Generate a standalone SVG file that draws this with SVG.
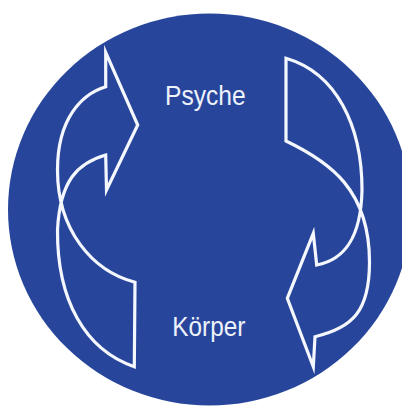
<svg xmlns="http://www.w3.org/2000/svg" width="402" height="407" viewBox="0 0 402 407">
  <style>
    .bg { fill: #ffffff; }
    .disc { fill: #27469b; }
    .arrow { fill: none; stroke: #f4f7fd; stroke-width: 3.2; stroke-linejoin: miter; stroke-miterlimit: 10; }
    .label { fill: #eef2fb; font-family: "Liberation Sans Narrow", "Liberation Sans", Arial, sans-serif; font-size: 27.5px; }
  </style>
  <rect class="bg" x="0" y="0" width="402" height="407"/>
  <ellipse class="disc" cx="209.6" cy="209.5" rx="201.6" ry="196"/>
  <g id="connectors">
    <path id="arrow-left" class="arrow" d="M105.7,86.7 L105.7,52.3 L137.7,125 L106.5,190 L105.7,155 C78,163 60,180 57.5,230 C57,300 85,350 134.3,366.7 L135,282.3 C92,271 57.5,230 57.5,170 C57.5,118 82,94 105.7,86.7 Z"/>
    <path id="arrow-right" class="arrow" d="M286,141 L286,58.3 C336,73 362,125 362,190 C361,240 343,260 316.7,265 L313.3,233.3 L287.3,298.3 L313.3,366.7 L315,336.7 C352,328 369.5,312 369.5,262 C369.5,190 330,162 286,141 Z"/>
  </g>
  <g id="node-psyche">
    <text class="label" x="165" y="104.5" textLength="80.7" lengthAdjust="spacingAndGlyphs">Psyche</text>
  </g>
  <g id="node-koerper">
    <text class="label" x="172.3" y="335.5" textLength="73" lengthAdjust="spacingAndGlyphs">Körper</text>
  </g>
</svg>
